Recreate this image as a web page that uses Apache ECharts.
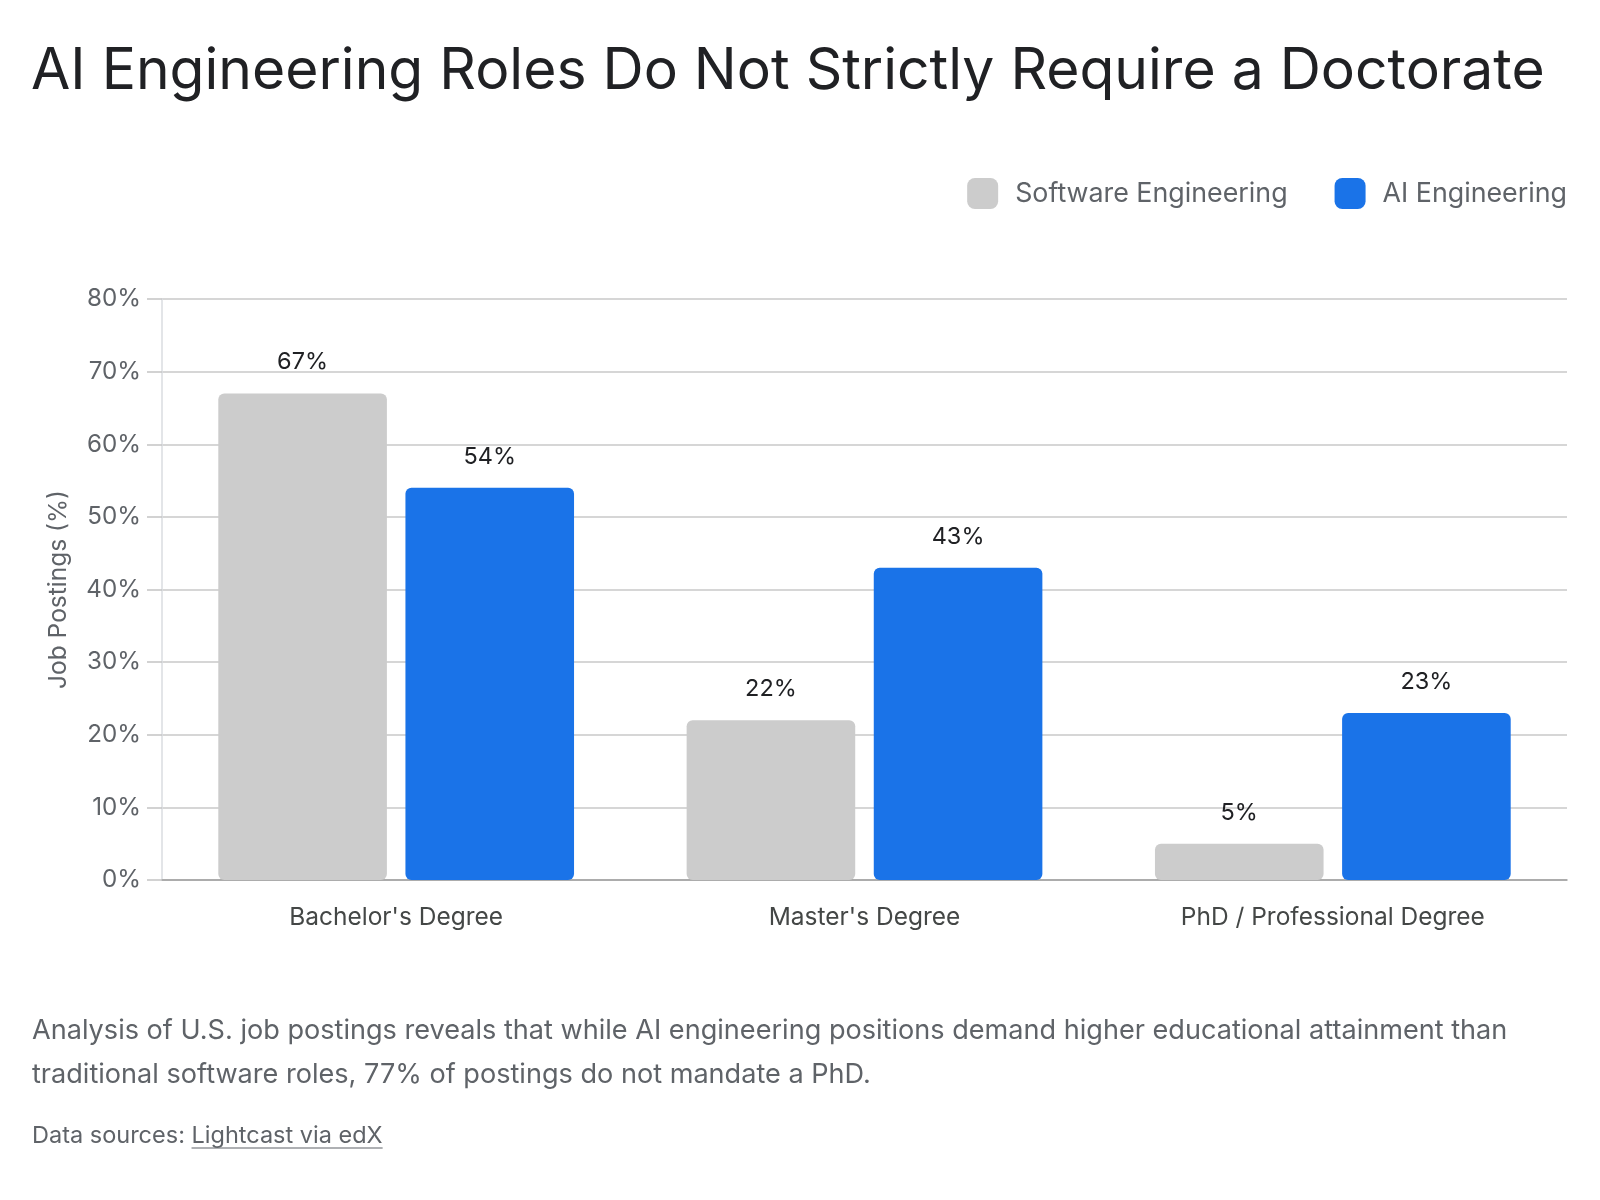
<!DOCTYPE html>
<html>
<head>
<meta charset="utf-8">
<script src="https://cdn.jsdelivr.net/npm/echarts@6/dist/echarts.min.js"></script>
<style>
html,body{margin:0;padding:0;background:#fff;}
#chart{width:1600px;height:1200px;}
</style>
</head>
<body>
<div id="chart"></div>
<script>
const categories = ["Bachelor's Degree", "Master's Degree", "PhD / Professional Degree"];
const seriesNames = ["Software Engineering", "AI Engineering"];
const softwareValues = [67, 22, 5];
const aiValues = [54, 43, 23];
const yTicks = [0, 10, 20, 30, 40, 50, 60, 70, 80];

const FONT = 'Inter';
const SRC_LEFT = 32, SRC_SIZE = 23.5, SRC_TOP = 1124;
const srcPrefix = 'Data sources: ';
const srcLink = 'Lightcast via edX';
const mctx = document.createElement('canvas').getContext('2d');
mctx.font = SRC_SIZE + 'px ' + FONT;
const ulStart = SRC_LEFT + mctx.measureText(srcPrefix).width;
const ulEnd = ulStart + mctx.measureText(srcLink).width;

const chart = echarts.init(document.getElementById('chart'));
const option = {
  backgroundColor: '#ffffff',
  animation: false,
  title: [
    {
      text: 'AI Engineering Roles Do Not Strictly Require a Doctorate',
      left: 31, top: 43, padding: 0,
      textStyle: { fontFamily: FONT, fontSize: 57, fontWeight: 'normal', color: '#202124' }
    },
    {
      text: 'Analysis of U.S. job postings reveals that while AI engineering positions demand higher educational attainment than\ntraditional software roles, 77% of postings do not mandate a PhD.',
      left: 32, top: 1009, padding: 0,
      textStyle: { fontFamily: FONT, fontSize: 27.1, fontWeight: 'normal', color: '#5f6368', lineHeight: 44 }
    },
    {
      text: srcPrefix + srcLink,
      left: SRC_LEFT, top: SRC_TOP, padding: 0,
      textStyle: { fontFamily: FONT, fontSize: SRC_SIZE, fontWeight: 'normal', color: '#5f6368' }
    }
  ],
  graphic: [
    { type: 'line', shape: { x1: ulStart, y1: SRC_TOP + 24, x2: ulEnd, y2: SRC_TOP + 24 },
      style: { stroke: '#5f6368', lineWidth: 1.2 } }
  ],
  legend: {
    data: seriesNames,
    right: 28, top: 173,
    icon: 'roundRect',
    itemWidth: 31, itemHeight: 31,
    itemGap: 47,
    textStyle: { fontFamily: FONT, fontSize: 26.8, color: '#5f6368', padding: [0, 0, 0, 12] }
  },
  grid: { left: 162, right: 33, top: 299, bottom: 320, containLabel: false },
  xAxis: {
    type: 'category',
    data: categories,
    axisLine: { show: true, lineStyle: { color: '#9e9e9e', width: 1.5 } },
    axisTick: { show: false },
    axisLabel: { fontFamily: FONT, fontSize: 24.5, color: '#444746', margin: 25 }
  },
  yAxis: {
    type: 'value',
    min: yTicks[0], max: yTicks[yTicks.length - 1], interval: 10,
    name: 'Job Postings (%)',
    nameLocation: 'middle',
    nameGap: 91,
    nameTextStyle: { fontFamily: FONT, fontSize: 24.5, color: '#5f6368' },
    axisLine: { show: true, lineStyle: { color: '#dadce0', width: 1.5 } },
    axisTick: { show: true, length: 15, lineStyle: { color: '#c4c4c4', width: 1.5 } },
    axisLabel: { fontFamily: FONT, fontSize: 24.2, color: '#5f6368', margin: 21, formatter: '{value}%' },
    splitLine: { lineStyle: { color: '#c8c8c8', width: 1.5 } }
  },
  series: [
    {
      name: seriesNames[0], type: 'bar', data: softwareValues,
      barWidth: '36%', barGap: '11%',
      itemStyle: { color: '#cccccc', borderRadius: 6 },
      label: { show: true, position: 'top', distance: 19, formatter: '{c}%', fontFamily: FONT, fontSize: 23.5, color: '#202124' }
    },
    {
      name: seriesNames[1], type: 'bar', data: aiValues,
      barWidth: '36%', barGap: '11%',
      itemStyle: { color: '#1a73e8', borderRadius: 6 },
      label: { show: true, position: 'top', distance: 19, formatter: '{c}%', fontFamily: FONT, fontSize: 23.5, color: '#202124' }
    }
  ]
};
chart.setOption(option);
</script>
</body>
</html>
